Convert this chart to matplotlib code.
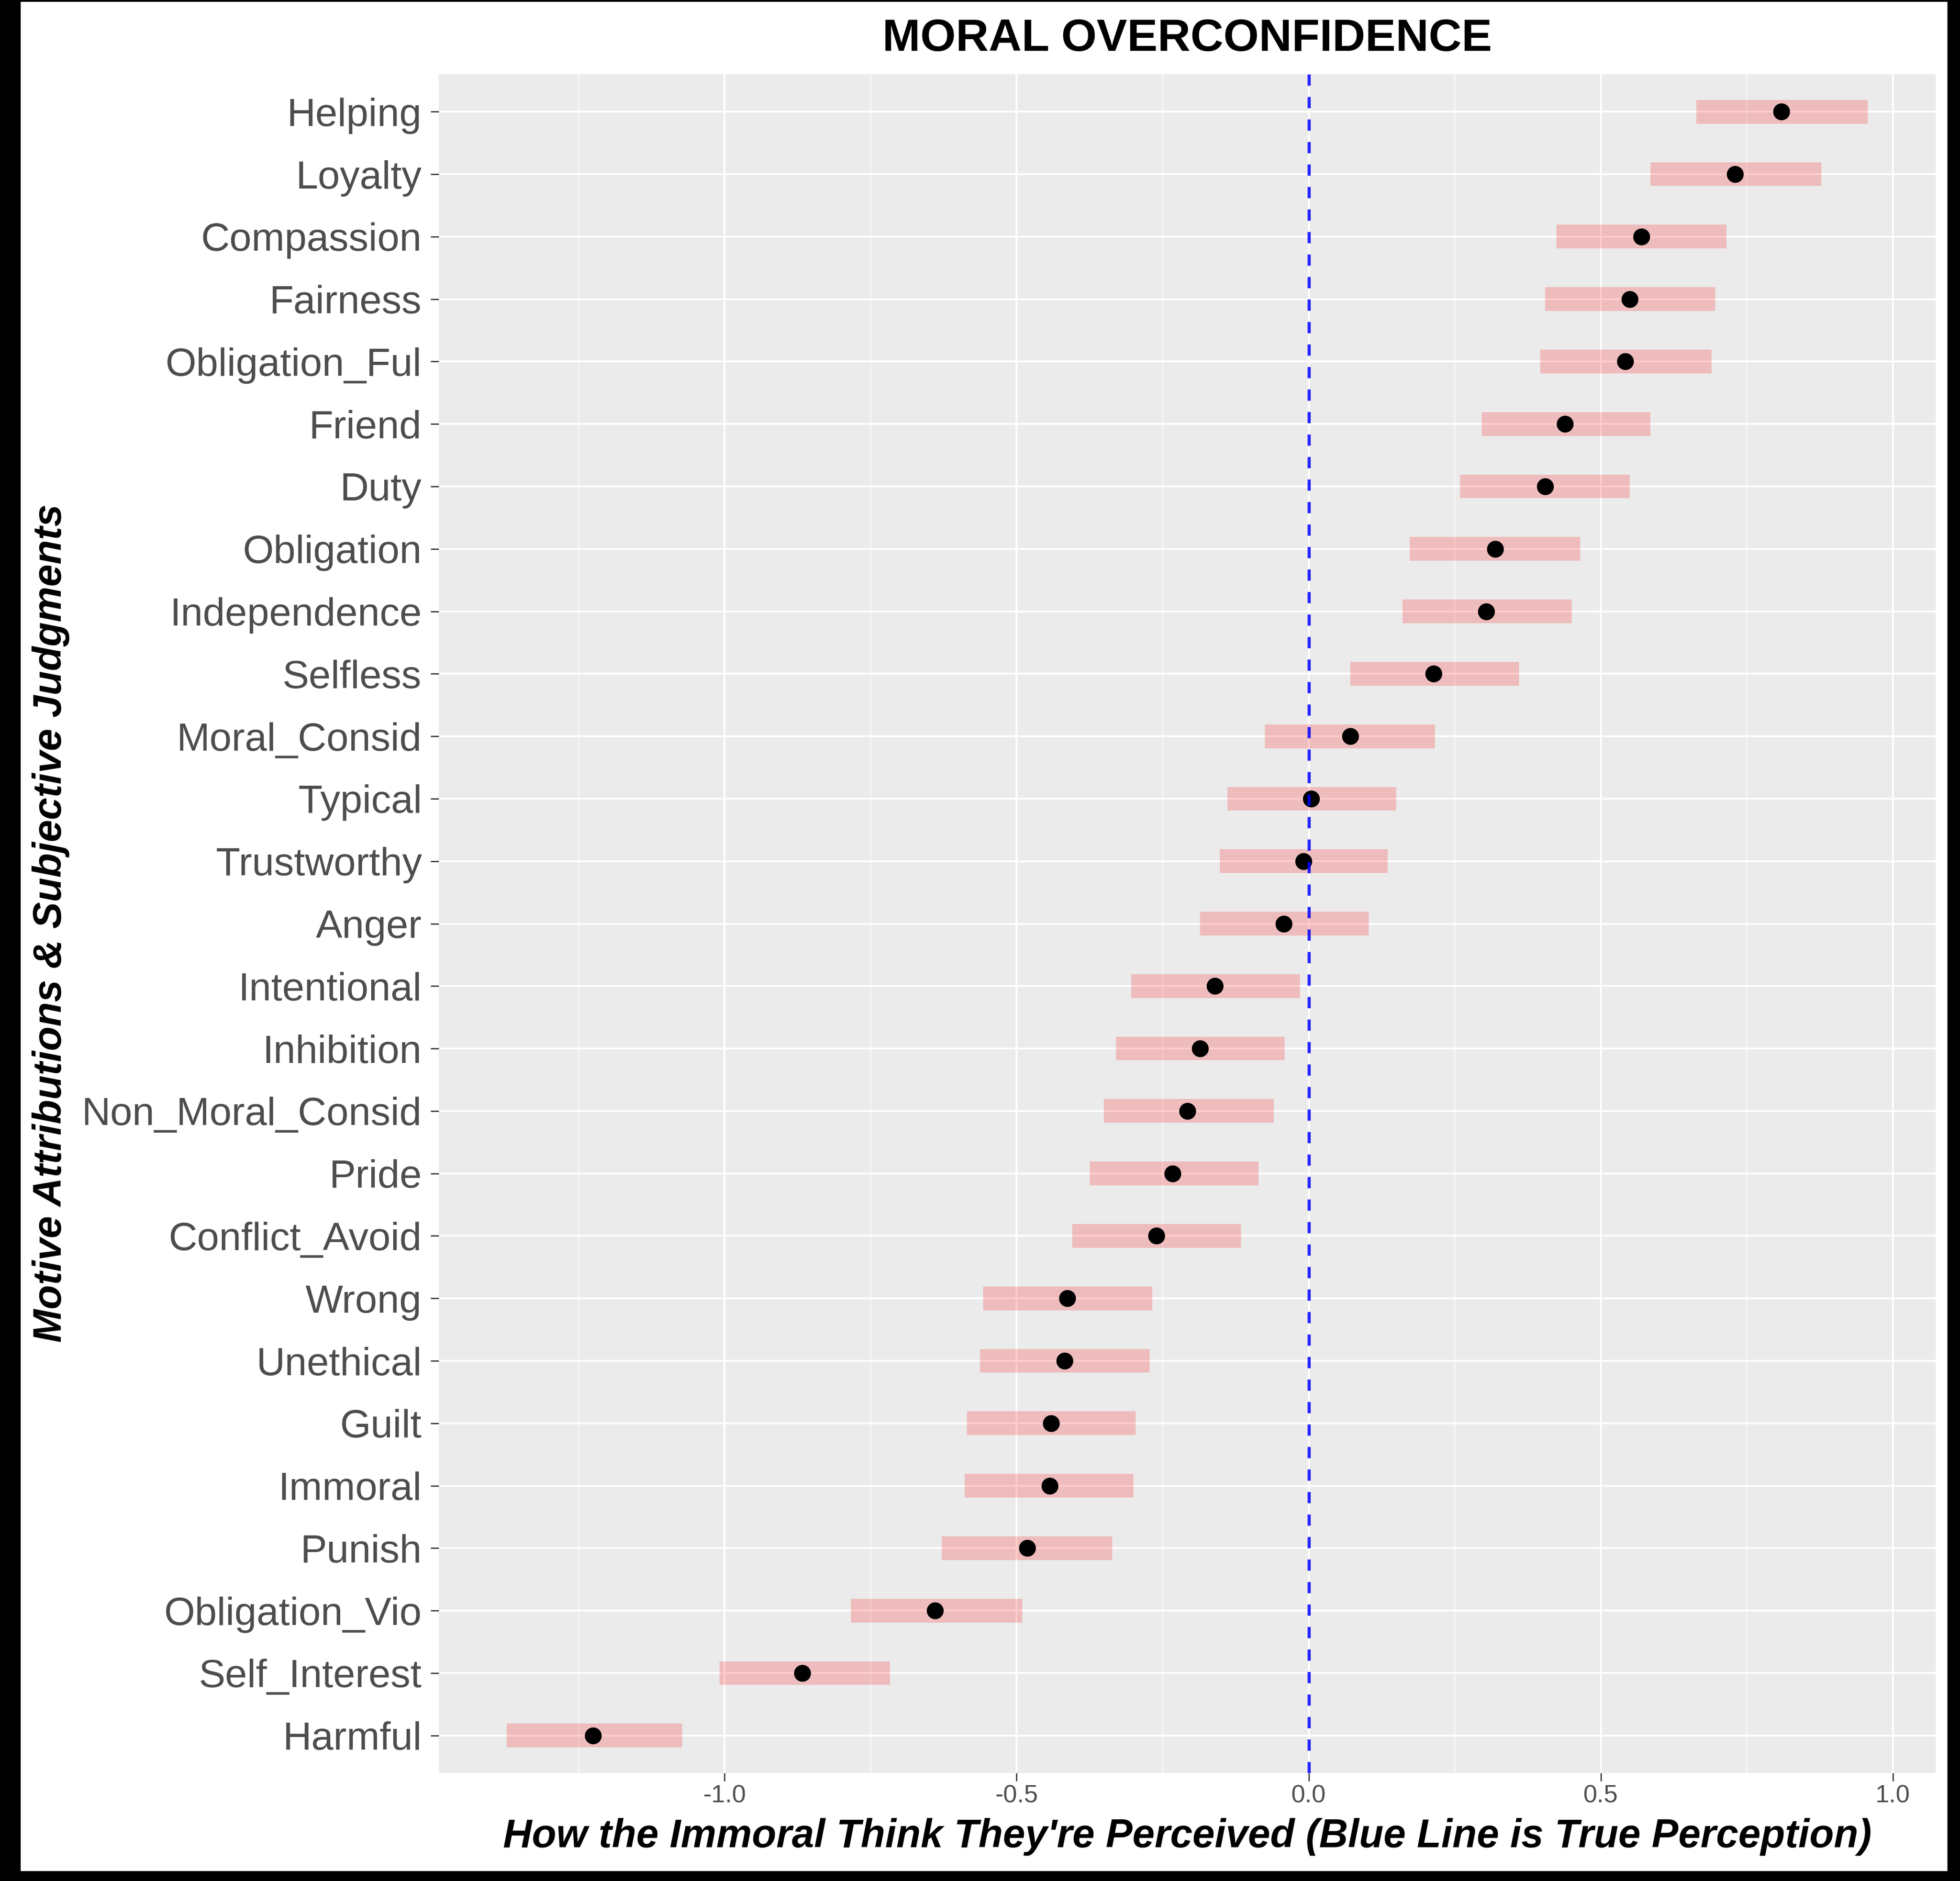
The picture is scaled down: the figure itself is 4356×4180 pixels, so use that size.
import numpy as np
import matplotlib
matplotlib.use("Agg")
import matplotlib.pyplot as plt
from matplotlib.patches import Rectangle

plt.rcParams['font.family'] = ['Liberation Sans', 'DejaVu Sans']

# dados (de cima para baixo)
categorias = ["Helping", "Loyalty", "Compassion", "Fairness", "Obligation_Ful",
              "Friend", "Duty", "Obligation", "Independence", "Selfless",
              "Moral_Consid", "Typical", "Trustworthy", "Anger", "Intentional",
              "Inhibition", "Non_Moral_Consid", "Pride", "Conflict_Avoid",
              "Wrong", "Unethical", "Guilt", "Immoral", "Punish",
              "Obligation_Vio", "Self_Interest", "Harmful"]

media = [0.809, 0.730, 0.570, 0.550, 0.542, 0.439, 0.405, 0.319, 0.304, 0.214,
         0.071, 0.004, -0.009, -0.043, -0.161, -0.186, -0.208, -0.233, -0.261,
         -0.413, -0.418, -0.441, -0.443, -0.482, -0.640, -0.867, -1.225]

inferior = [0.664, 0.585, 0.424, 0.405, 0.396, 0.296, 0.259, 0.173, 0.161, 0.071,
            -0.075, -0.139, -0.152, -0.186, -0.304, -0.330, -0.351, -0.375, -0.405,
            -0.557, -0.563, -0.585, -0.589, -0.628, -0.784, -1.009, -1.373]

superior = [0.957, 0.878, 0.715, 0.696, 0.690, 0.585, 0.550, 0.465, 0.450, 0.360,
            0.216, 0.150, 0.135, 0.103, -0.015, -0.041, -0.060, -0.086, -0.116,
            -0.268, -0.272, -0.296, -0.300, -0.336, -0.490, -0.717, -1.073]

ticks_x = [-1.0, -0.5, 0.0, 0.5, 1.0]
ticks_x_menor = [-1.25, -0.75, -0.25, 0.25, 0.75]

W, H = 4356, 4180
fig = plt.figure(figsize=(W / 100, H / 100), dpi=100)
fig.patch.set_facecolor('black')
fig.add_artist(Rectangle((46 / W, 22 / H), (4328 - 46) / W, (4176 - 22) / H,
                         transform=fig.transFigure, facecolor='white',
                         edgecolor='none', zorder=-10))

# painel
ax = fig.add_axes([975 / W, 240 / H, (4302 - 975) / W, (3940 - 165) / H])
ax.set_facecolor('#EBEBEB')
for s in ax.spines.values():
    s.set_visible(False)

n = len(categorias)
y = np.arange(n, 0, -1)
inferior = np.array(inferior)
superior = np.array(superior)

ax.barh(y, superior - inferior, left=inferior, height=0.38,
        color='red', alpha=0.2, zorder=2)
ax.plot(media, y, 'o', color='black', markersize=26, zorder=3)
ax.axvline(0, color='#0000FF', linewidth=5, linestyle=(0, (3.6, 3.6)),
           alpha=0.85, zorder=4)

lo, hi = inferior.min(), superior.max()
ax.set_xlim(lo - 0.05 * (hi - lo), hi + 0.05 * (hi - lo))
ax.set_ylim(0.4, n + 0.6)

ax.set_xticks(ticks_x)
ax.set_xticklabels([f"{t:.1f}" for t in ticks_x])
ax.set_xticks(ticks_x_menor, minor=True)
ax.set_yticks(y)
ax.set_yticklabels(categorias)

ax.grid(True, which='major', color='white', linewidth=3)
ax.grid(True, which='minor', axis='x', color='white', linewidth=1.4)
ax.set_axisbelow(True)

ax.tick_params(axis='y', which='major', labelsize=63.5, colors='#333333',
               labelcolor='#4D4D4D', length=13, width=2, pad=14)
ax.tick_params(axis='x', which='major', labelsize=40, colors='#333333',
               labelcolor='#4D4D4D', length=13, width=2, pad=5)
ax.tick_params(axis='x', which='minor', length=0)

cx = (975 + 4302) / 2 / W
fig.text(cx, (H - 113) / H, "MORAL OVERCONFIDENCE", fontsize=73,
         fontweight='bold', ha='center', va='baseline', color='black')
fig.text(cx, (H - 4105) / H,
         "How the Immoral Think They're Perceived (Blue Line is True Perception)",
         fontsize=64, fontweight='bold', fontstyle='italic', ha='center',
         va='baseline', color='black')
fig.text(113 / W, (H - 2052) / H, "Motive Attributions & Subjective Judgments",
         fontsize=64, fontweight='bold', fontstyle='italic', rotation=90,
         ha='center', va='center', color='black')

fig.savefig('out.png', dpi=100, facecolor=fig.get_facecolor())
